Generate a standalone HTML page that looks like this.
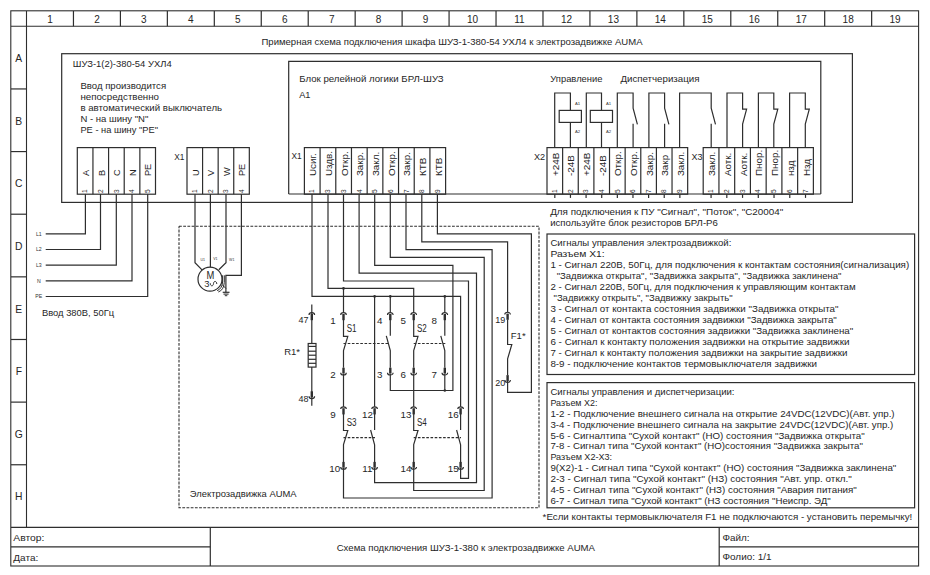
<!DOCTYPE html>
<html><head><meta charset="utf-8"><style>
html,body{margin:0;padding:0;background:#fff;overflow:hidden;width:930px;height:575px;}
svg{display:block;}
text{font-family:"Liberation Sans",sans-serif;fill:#262626;stroke:none;}
</style></head><body>
<svg width="930" height="575" viewBox="0 0 930 575">
<rect x="0" y="0" width="930" height="575" fill="#fff"/>
<g fill="none" stroke="#2e2e2e" stroke-width="1.2" stroke-linecap="butt" stroke-linejoin="miter">
<rect x="10.80" y="10.80" width="907.80" height="555.20" stroke-width="1.1"/>
<polyline points="11.00,26.30 918.60,26.30" stroke-width="1.1"/>
<polyline points="26.50,11.00 26.50,527.40" stroke-width="1.1"/>
<polyline points="73.45,11.00 73.45,26.30"/>
<polyline points="120.41,11.00 120.41,26.30"/>
<polyline points="167.36,11.00 167.36,26.30"/>
<polyline points="214.31,11.00 214.31,26.30"/>
<polyline points="261.26,11.00 261.26,26.30"/>
<polyline points="308.22,11.00 308.22,26.30"/>
<polyline points="355.17,11.00 355.17,26.30"/>
<polyline points="402.12,11.00 402.12,26.30"/>
<polyline points="449.07,11.00 449.07,26.30"/>
<polyline points="496.03,11.00 496.03,26.30"/>
<polyline points="542.98,11.00 542.98,26.30"/>
<polyline points="589.93,11.00 589.93,26.30"/>
<polyline points="636.88,11.00 636.88,26.30"/>
<polyline points="683.84,11.00 683.84,26.30"/>
<polyline points="730.79,11.00 730.79,26.30"/>
<polyline points="777.74,11.00 777.74,26.30"/>
<polyline points="824.69,11.00 824.69,26.30"/>
<polyline points="871.65,11.00 871.65,26.30"/>
<polyline points="11.00,88.94 26.50,88.94"/>
<polyline points="11.00,151.57 26.50,151.57"/>
<polyline points="11.00,214.21 26.50,214.21"/>
<polyline points="11.00,276.85 26.50,276.85"/>
<polyline points="11.00,339.49 26.50,339.49"/>
<polyline points="11.00,402.12 26.50,402.12"/>
<polyline points="11.00,464.76 26.50,464.76"/>
<polyline points="11.00,527.40 918.60,527.40" stroke-width="1.1"/>
<polyline points="11.00,546.80 210.30,546.80"/>
<polyline points="719.20,546.80 918.60,546.80"/>
<polyline points="210.30,527.40 210.30,566.00"/>
<polyline points="719.20,527.40 719.20,566.00"/>
<rect x="61.70" y="53.70" width="790.70" height="148.70"/>
<rect x="77.30" y="147.60" width="78.20" height="46.60"/>
<polyline points="92.94,147.60 92.94,194.20"/>
<polyline points="108.58,147.60 108.58,194.20"/>
<polyline points="124.22,147.60 124.22,194.20"/>
<polyline points="139.86,147.60 139.86,194.20"/>
<rect x="187.00" y="147.60" width="62.32" height="46.60"/>
<polyline points="202.58,147.60 202.58,194.20"/>
<polyline points="218.16,147.60 218.16,194.20"/>
<polyline points="233.74,147.60 233.74,194.20"/>
<polyline points="288.70,194.00 288.70,61.30 820.80,61.30 820.80,194.00"/>
<polyline points="288.70,194.00 820.80,194.00"/>
<rect x="304.40" y="147.60" width="141.21" height="46.60"/>
<polyline points="320.09,147.60 320.09,194.20"/>
<polyline points="335.78,147.60 335.78,194.20"/>
<polyline points="351.47,147.60 351.47,194.20"/>
<polyline points="367.16,147.60 367.16,194.20"/>
<polyline points="382.85,147.60 382.85,194.20"/>
<polyline points="398.54,147.60 398.54,194.20"/>
<polyline points="414.23,147.60 414.23,194.20"/>
<polyline points="429.92,147.60 429.92,194.20"/>
<rect x="547.00" y="147.60" width="140.67" height="46.60"/>
<polyline points="562.63,147.60 562.63,194.20"/>
<polyline points="578.26,147.60 578.26,194.20"/>
<polyline points="593.89,147.60 593.89,194.20"/>
<polyline points="609.52,147.60 609.52,194.20"/>
<polyline points="625.15,147.60 625.15,194.20"/>
<polyline points="640.78,147.60 640.78,194.20"/>
<polyline points="656.41,147.60 656.41,194.20"/>
<polyline points="672.04,147.60 672.04,194.20"/>
<polyline points="554.82,194.20 554.82,197.90"/>
<polyline points="570.45,194.20 570.45,197.90"/>
<polyline points="586.08,194.20 586.08,197.90"/>
<polyline points="601.71,194.20 601.71,197.90"/>
<polyline points="617.34,194.20 617.34,197.90"/>
<polyline points="632.97,194.20 632.97,197.90"/>
<polyline points="648.60,194.20 648.60,197.90"/>
<polyline points="664.23,194.20 664.23,197.90"/>
<polyline points="679.86,194.20 679.86,197.90"/>
<rect x="703.20" y="147.60" width="110.18" height="46.60"/>
<polyline points="718.94,147.60 718.94,194.20"/>
<polyline points="734.68,147.60 734.68,194.20"/>
<polyline points="750.42,147.60 750.42,194.20"/>
<polyline points="766.16,147.60 766.16,194.20"/>
<polyline points="781.90,147.60 781.90,194.20"/>
<polyline points="797.64,147.60 797.64,194.20"/>
<polyline points="711.07,194.20 711.07,197.90"/>
<polyline points="726.81,194.20 726.81,197.90"/>
<polyline points="742.55,194.20 742.55,197.90"/>
<polyline points="758.29,194.20 758.29,197.90"/>
<polyline points="774.03,194.20 774.03,197.90"/>
<polyline points="789.77,194.20 789.77,197.90"/>
<polyline points="805.51,194.20 805.51,197.90"/>
<polyline points="554.70,147.60 554.70,93.00 570.40,93.00 570.40,110.40"/>
<polyline points="570.40,122.40 570.40,147.60"/>
<rect x="559.20" y="110.40" width="22.20" height="12.00"/>
<polyline points="586.30,147.60 586.30,93.00 601.50,93.00 601.50,110.40"/>
<polyline points="601.50,122.40 601.50,147.60"/>
<rect x="590.30" y="110.40" width="22.20" height="12.00"/>
<polyline points="617.30,147.60 617.30,93.00 633.10,93.00 633.10,108.20 637.40,124.40"/>
<polyline points="633.10,123.70 633.10,147.60"/>
<polyline points="648.90,147.60 648.90,93.00 664.60,93.00 664.60,108.20 668.90,124.40"/>
<polyline points="664.60,123.70 664.60,147.60"/>
<polyline points="679.60,147.60 679.60,93.00 711.20,93.00 711.20,108.20 715.50,124.40"/>
<polyline points="711.20,123.70 711.20,147.60"/>
<polyline points="727.00,147.60 727.00,93.00 742.60,93.00 742.60,109.10 746.60,109.10 742.60,124.00 742.60,147.60"/>
<polyline points="758.40,147.60 758.40,93.00 773.80,93.00 773.80,109.10 777.80,109.10 773.80,124.00 773.80,147.60"/>
<polyline points="789.60,147.60 789.60,93.00 805.30,93.00 805.30,109.10 809.30,109.10 805.30,124.00 805.30,147.60"/>
<rect x="547.00" y="234.00" width="367.60" height="140.50"/>
<rect x="547.00" y="382.60" width="367.60" height="125.20"/>
<polyline points="85.40,194.20 85.40,233.80 45.70,233.80"/>
<polyline points="100.50,194.20 100.50,249.48 45.70,249.48"/>
<polyline points="116.30,194.20 116.30,265.16 45.70,265.16"/>
<polyline points="132.00,194.20 132.00,280.84 45.70,280.84"/>
<polyline points="147.70,194.20 147.70,296.52 45.70,296.52"/>
<polyline points="179.00,226.20 539.00,226.20 539.00,507.70 179.00,507.70 179.00,226.20" stroke-width="1.1" stroke-dasharray="2.8,1.4"/>
<polyline points="195.00,194.20 195.00,262.70 202.00,269.80"/>
<polyline points="210.40,194.20 210.40,267.20"/>
<polyline points="226.00,194.20 226.00,262.70 218.80,269.80"/>
<polyline points="241.40,194.20 241.40,275.40 225.90,275.40 225.90,292.30"/>
<polyline points="222.70,292.30 229.50,292.30" stroke-width="1.2"/>
<polyline points="223.50,294.10 228.60,294.10" stroke-width="1.1"/>
<polyline points="224.80,295.70 227.30,295.70" stroke-width="1.0"/>
<circle cx="210.0" cy="279.15" r="12.0"/>
<path d="M 222.6 275.3 L 222.6 282 Q 222.1 288.6 217.2 290.7" stroke-width="1.0"/>
<path d="M 224.3 275.3 L 224.3 282.5 Q 223.7 290.2 218.3 292.0" stroke-width="1.0"/>
<polyline points="222.60,285.00 226.00,288.60" stroke-width="1.0"/>
<path d="M 210.2 283.2 C 210.4 286.6, 213.3 286.6, 213.5 283.6 C 213.7 280.6, 216.6 280.6, 216.8 284.0" stroke-width="1.0"/>
<path d="M 340.70 314.90 A 2.8 2.3 0 0 1 346.30 314.90" stroke-width="1.15"/>
<polyline points="343.50,314.00 343.50,320.20" stroke-width="2.4"/>
<polyline points="343.50,319.80 343.50,336.30 347.80,336.30 343.50,350.50 343.50,367.70"/>
<polyline points="343.50,367.70 343.50,373.60" stroke-width="2.4"/>
<path d="M 340.70 372.70 A 2.8 2.3 0 0 0 346.30 372.70" stroke-width="1.15"/>
<path d="M 387.50 314.90 A 2.8 2.3 0 0 1 393.10 314.90" stroke-width="1.15"/>
<polyline points="390.30,314.00 390.30,320.20" stroke-width="2.4"/>
<polyline points="390.30,319.80 390.30,335.80"/>
<polyline points="386.30,335.80 390.30,350.60 390.30,367.70"/>
<polyline points="390.30,367.70 390.30,373.60" stroke-width="2.4"/>
<path d="M 387.50 372.70 A 2.8 2.3 0 0 0 393.10 372.70" stroke-width="1.15"/>
<polyline points="343.50,343.50 389.00,343.50" stroke-dasharray="2.6,1.6"/>
<path d="M 410.90 314.90 A 2.8 2.3 0 0 1 416.50 314.90" stroke-width="1.15"/>
<polyline points="413.70,314.00 413.70,320.20" stroke-width="2.4"/>
<polyline points="413.70,319.80 413.70,336.30 418.00,336.30 413.70,350.50 413.70,367.70"/>
<polyline points="413.70,367.70 413.70,373.60" stroke-width="2.4"/>
<path d="M 410.90 372.70 A 2.8 2.3 0 0 0 416.50 372.70" stroke-width="1.15"/>
<path d="M 442.00 314.90 A 2.8 2.3 0 0 1 447.60 314.90" stroke-width="1.15"/>
<polyline points="444.80,314.00 444.80,320.20" stroke-width="2.4"/>
<polyline points="444.80,319.80 444.80,335.80"/>
<polyline points="440.80,335.80 444.80,350.60 444.80,367.70"/>
<polyline points="444.80,367.70 444.80,373.60" stroke-width="2.4"/>
<path d="M 442.00 372.70 A 2.8 2.3 0 0 0 447.60 372.70" stroke-width="1.15"/>
<polyline points="413.70,343.50 445.30,343.50" stroke-dasharray="2.6,1.6"/>
<path d="M 340.70 409.10 A 2.8 2.3 0 0 1 346.30 409.10" stroke-width="1.15"/>
<polyline points="343.50,408.20 343.50,414.40" stroke-width="2.4"/>
<polyline points="343.50,414.00 343.50,430.50 347.80,430.50 343.50,444.70 343.50,461.90"/>
<polyline points="343.50,461.90 343.50,467.80" stroke-width="2.4"/>
<path d="M 340.70 466.90 A 2.8 2.3 0 0 0 346.30 466.90" stroke-width="1.15"/>
<path d="M 371.80 409.10 A 2.8 2.3 0 0 1 377.40 409.10" stroke-width="1.15"/>
<polyline points="374.60,408.20 374.60,414.40" stroke-width="2.4"/>
<polyline points="374.60,414.00 374.60,430.00"/>
<polyline points="370.60,430.00 374.60,444.80 374.60,461.90"/>
<polyline points="374.60,461.90 374.60,467.80" stroke-width="2.4"/>
<path d="M 371.80 466.90 A 2.8 2.3 0 0 0 377.40 466.90" stroke-width="1.15"/>
<polyline points="343.50,437.70 375.00,437.70" stroke-dasharray="2.6,1.6"/>
<path d="M 410.90 409.10 A 2.8 2.3 0 0 1 416.50 409.10" stroke-width="1.15"/>
<polyline points="413.70,408.20 413.70,414.40" stroke-width="2.4"/>
<polyline points="413.70,414.00 413.70,430.50 418.00,430.50 413.70,444.70 413.70,461.90"/>
<polyline points="413.70,461.90 413.70,467.80" stroke-width="2.4"/>
<path d="M 410.90 466.90 A 2.8 2.3 0 0 0 416.50 466.90" stroke-width="1.15"/>
<path d="M 457.80 409.10 A 2.8 2.3 0 0 1 463.40 409.10" stroke-width="1.15"/>
<polyline points="460.60,408.20 460.60,414.40" stroke-width="2.4"/>
<polyline points="460.60,414.00 460.60,430.00"/>
<polyline points="456.60,430.00 460.60,444.80 460.60,461.90"/>
<polyline points="460.60,461.90 460.60,467.80" stroke-width="2.4"/>
<path d="M 457.80 466.90 A 2.8 2.3 0 0 0 463.40 466.90" stroke-width="1.15"/>
<polyline points="413.70,437.70 461.00,437.70" stroke-dasharray="2.6,1.6"/>
<path d="M 504.80 314.50 A 2.8 2.3 0 0 1 510.40 314.50" stroke-width="1.15"/>
<polyline points="507.60,313.60 507.60,319.80" stroke-width="2.4"/>
<polyline points="507.60,319.40 507.60,344.50 511.80,344.50 507.60,358.90 507.60,375.10"/>
<polyline points="507.60,375.10 507.60,381.00" stroke-width="2.4"/>
<path d="M 504.80 380.10 A 2.8 2.3 0 0 0 510.40 380.10" stroke-width="1.15"/>
<path d="M 309.00 314.90 A 2.8 2.3 0 0 1 314.60 314.90" stroke-width="1.15"/>
<polyline points="311.80,314.00 311.80,320.20" stroke-width="2.4"/>
<polyline points="311.80,304.40 311.80,343.50"/>
<polyline points="311.80,367.10 311.80,405.70"/>
<rect x="308.20" y="343.50" width="7.80" height="23.60"/>
<polyline points="308.20,346.40 316.00,346.40"/>
<polyline points="308.20,351.20 316.00,351.20"/>
<polyline points="308.20,355.20 316.00,355.20"/>
<polyline points="308.20,359.30 316.00,359.30"/>
<polyline points="308.20,363.30 316.00,363.30"/>
<polyline points="311.80,391.30 311.80,397.20" stroke-width="2.4"/>
<path d="M 309.00 396.30 A 2.8 2.3 0 0 0 314.60 396.30" stroke-width="1.15"/>
<polyline points="312.00,194.20 312.00,296.40 460.60,296.40 460.60,406.80"/>
<polyline points="328.00,194.20 328.00,288.40 413.70,288.40 413.70,312.60"/>
<polyline points="343.50,194.20 343.50,281.00 468.50,281.00 468.50,478.30 460.60,478.30 460.60,468.00"/>
<polyline points="359.10,194.20 359.10,273.10 476.50,273.10 476.50,482.70 374.60,482.70 374.60,468.00"/>
<polyline points="374.70,194.20 374.70,265.30 452.90,265.30 452.90,390.50 390.30,390.50 390.30,373.70"/>
<polyline points="390.30,194.20 390.30,257.40 484.20,257.40 484.20,490.50 413.70,490.50 413.70,468.00"/>
<polyline points="406.00,194.20 406.00,249.60 492.10,249.60 492.10,498.00 343.50,498.00 343.50,468.00"/>
<polyline points="421.80,194.20 421.80,241.80 507.60,241.80 507.60,312.20"/>
<polyline points="437.40,194.20 437.40,233.90 531.40,233.90 531.40,392.40 507.60,392.40 507.60,381.00"/>
<polyline points="343.50,288.40 343.50,312.60"/>
<polyline points="374.60,296.40 374.60,406.80"/>
<polyline points="390.30,296.40 390.30,312.60"/>
<polyline points="444.80,296.40 444.80,312.60"/>
<polyline points="444.80,373.70 444.80,390.50"/>
<polyline points="343.50,373.70 343.50,406.80"/>
<polyline points="413.70,373.70 413.70,406.80"/>
<circle cx="343.5" cy="288.4" r="1.3" fill="#2e2e2e" stroke="none"/>
<circle cx="374.6" cy="296.4" r="1.3" fill="#2e2e2e" stroke="none"/>
<circle cx="390.3" cy="296.4" r="1.3" fill="#2e2e2e" stroke="none"/>
<circle cx="444.8" cy="296.4" r="1.3" fill="#2e2e2e" stroke="none"/>
<circle cx="444.8" cy="390.5" r="1.3" fill="#2e2e2e" stroke="none"/>
</g>
<g font-size="9.2">
<text x="49.98" y="23.00" font-size="10" text-anchor="middle">1</text>
<text x="96.93" y="23.00" font-size="10" text-anchor="middle">2</text>
<text x="143.88" y="23.00" font-size="10" text-anchor="middle">3</text>
<text x="190.83" y="23.00" font-size="10" text-anchor="middle">4</text>
<text x="237.79" y="23.00" font-size="10" text-anchor="middle">5</text>
<text x="284.74" y="23.00" font-size="10" text-anchor="middle">6</text>
<text x="331.69" y="23.00" font-size="10" text-anchor="middle">7</text>
<text x="378.64" y="23.00" font-size="10" text-anchor="middle">8</text>
<text x="425.60" y="23.00" font-size="10" text-anchor="middle">9</text>
<text x="472.55" y="23.00" font-size="10" text-anchor="middle">10</text>
<text x="519.50" y="23.00" font-size="10" text-anchor="middle">11</text>
<text x="566.46" y="23.00" font-size="10" text-anchor="middle">12</text>
<text x="613.41" y="23.00" font-size="10" text-anchor="middle">13</text>
<text x="660.36" y="23.00" font-size="10" text-anchor="middle">14</text>
<text x="707.31" y="23.00" font-size="10" text-anchor="middle">15</text>
<text x="754.27" y="23.00" font-size="10" text-anchor="middle">16</text>
<text x="801.22" y="23.00" font-size="10" text-anchor="middle">17</text>
<text x="848.17" y="23.00" font-size="10" text-anchor="middle">18</text>
<text x="895.12" y="23.00" font-size="10" text-anchor="middle">19</text>
<text x="18.80" y="62.02" font-size="10.3" text-anchor="middle">A</text>
<text x="18.80" y="124.66" font-size="10.3" text-anchor="middle">B</text>
<text x="18.80" y="187.29" font-size="10.3" text-anchor="middle">C</text>
<text x="18.80" y="249.93" font-size="10.3" text-anchor="middle">D</text>
<text x="18.80" y="312.57" font-size="10.3" text-anchor="middle">E</text>
<text x="18.80" y="375.21" font-size="10.3" text-anchor="middle">F</text>
<text x="18.80" y="437.84" font-size="10.3" text-anchor="middle">G</text>
<text x="18.80" y="500.48" font-size="10.3" text-anchor="middle">H</text>
<text x="13.30" y="540.70" textLength="31.0" lengthAdjust="spacingAndGlyphs">Автор:</text>
<text x="13.30" y="560.70" textLength="25.0" lengthAdjust="spacingAndGlyphs">Дата:</text>
<text x="336.70" y="550.70" textLength="258.3" lengthAdjust="spacingAndGlyphs">Схема подключения ШУЗ-1-380 к электрозадвижке AUMA</text>
<text x="722.50" y="540.50" textLength="27.0" lengthAdjust="spacingAndGlyphs">Файл:</text>
<text x="722.50" y="559.80" textLength="49.0" lengthAdjust="spacingAndGlyphs">Фолио: 1/1</text>
<text x="261.50" y="45.10" textLength="381.0" lengthAdjust="spacingAndGlyphs">Примерная схема подключения шкафа ШУЗ-1-380-54 УХЛ4 к электрозадвижке AUMA</text>
<text x="72.80" y="66.50" textLength="98.9" lengthAdjust="spacingAndGlyphs">ШУЗ-1(2)-380-54 УХЛ4</text>
<text x="80.40" y="89.20" textLength="85.7" lengthAdjust="spacingAndGlyphs">Ввод производится</text>
<text x="80.40" y="100.25" textLength="78.6" lengthAdjust="spacingAndGlyphs">непосредственно</text>
<text x="80.40" y="111.30" textLength="141.7" lengthAdjust="spacingAndGlyphs">в автоматический выключатель</text>
<text x="80.40" y="122.35" textLength="68.0" lengthAdjust="spacingAndGlyphs">N - на шину "N"</text>
<text x="80.40" y="133.40" textLength="77.6" lengthAdjust="spacingAndGlyphs">PE - на шину "PE"</text>
<text x="88.92" y="176.10" transform="rotate(-90 88.92 176.10)">A</text>
<text x="87.32" y="192.90" font-size="6.6" transform="rotate(-90 87.32 192.90)">1</text>
<text x="104.56" y="176.10" transform="rotate(-90 104.56 176.10)">B</text>
<text x="102.96" y="192.90" font-size="6.6" transform="rotate(-90 102.96 192.90)">2</text>
<text x="120.20" y="176.10" transform="rotate(-90 120.20 176.10)">C</text>
<text x="118.60" y="192.90" font-size="6.6" transform="rotate(-90 118.60 192.90)">3</text>
<text x="135.84" y="176.10" transform="rotate(-90 135.84 176.10)">N</text>
<text x="134.24" y="192.90" font-size="6.6" transform="rotate(-90 134.24 192.90)">4</text>
<text x="151.48" y="176.10" transform="rotate(-90 151.48 176.10)">PE</text>
<text x="149.88" y="192.90" font-size="6.6" transform="rotate(-90 149.88 192.90)">5</text>
<text x="198.59" y="176.10" transform="rotate(-90 198.59 176.10)">U</text>
<text x="196.99" y="192.90" font-size="6.6" transform="rotate(-90 196.99 192.90)">1</text>
<text x="214.17" y="176.10" transform="rotate(-90 214.17 176.10)">V</text>
<text x="212.57" y="192.90" font-size="6.6" transform="rotate(-90 212.57 192.90)">2</text>
<text x="229.75" y="176.10" transform="rotate(-90 229.75 176.10)">W</text>
<text x="228.15" y="192.90" font-size="6.6" transform="rotate(-90 228.15 192.90)">3</text>
<text x="245.33" y="176.10" transform="rotate(-90 245.33 176.10)">PE</text>
<text x="243.73" y="192.90" font-size="6.6" transform="rotate(-90 243.73 192.90)">4</text>
<text x="174.20" y="159.80" textLength="10.2" lengthAdjust="spacingAndGlyphs">X1</text>
<text x="299.20" y="81.70" textLength="144.5" lengthAdjust="spacingAndGlyphs">Блок релейной логики БРЛ-ШУЗ</text>
<text x="299.20" y="97.60" textLength="11.3" lengthAdjust="spacingAndGlyphs">A1</text>
<text x="316.25" y="176.10" font-size="9.9" transform="rotate(-90 316.25 176.10)">Uсиг.</text>
<text x="314.44" y="192.90" font-size="6.6" transform="rotate(-90 314.44 192.90)">1</text>
<text x="331.94" y="176.10" font-size="9.9" transform="rotate(-90 331.94 176.10)">Uздв.</text>
<text x="330.13" y="192.90" font-size="6.6" transform="rotate(-90 330.13 192.90)">3</text>
<text x="347.62" y="176.10" font-size="9.9" transform="rotate(-90 347.62 176.10)">Откр.</text>
<text x="345.82" y="192.90" font-size="6.6" transform="rotate(-90 345.82 192.90)">3</text>
<text x="363.31" y="176.10" font-size="9.9" transform="rotate(-90 363.31 176.10)">Закр.</text>
<text x="361.51" y="192.90" font-size="6.6" transform="rotate(-90 361.51 192.90)">4</text>
<text x="379.00" y="176.10" font-size="9.9" transform="rotate(-90 379.00 176.10)">Закл.</text>
<text x="377.20" y="192.90" font-size="6.6" transform="rotate(-90 377.20 192.90)">5</text>
<text x="394.69" y="176.10" font-size="9.9" transform="rotate(-90 394.69 176.10)">Откр.</text>
<text x="392.89" y="192.90" font-size="6.6" transform="rotate(-90 392.89 192.90)">6</text>
<text x="410.38" y="176.10" font-size="9.9" transform="rotate(-90 410.38 176.10)">Закр.</text>
<text x="408.58" y="192.90" font-size="6.6" transform="rotate(-90 408.58 192.90)">7</text>
<text x="426.07" y="176.10" font-size="9.9" transform="rotate(-90 426.07 176.10)">КТВ</text>
<text x="424.27" y="192.90" font-size="6.6" transform="rotate(-90 424.27 192.90)">8</text>
<text x="441.76" y="176.10" font-size="9.9" transform="rotate(-90 441.76 176.10)">КТВ</text>
<text x="439.96" y="192.90" font-size="6.6" transform="rotate(-90 439.96 192.90)">9</text>
<text x="291.40" y="159.30" textLength="10.2" lengthAdjust="spacingAndGlyphs">X1</text>
<text x="558.82" y="176.10" font-size="9.9" transform="rotate(-90 558.82 176.10)">+24В</text>
<text x="557.02" y="192.90" font-size="6.6" transform="rotate(-90 557.02 192.90)">1</text>
<text x="574.45" y="176.10" font-size="9.9" transform="rotate(-90 574.45 176.10)">-24В</text>
<text x="572.65" y="192.90" font-size="6.6" transform="rotate(-90 572.65 192.90)">2</text>
<text x="590.08" y="176.10" font-size="9.9" transform="rotate(-90 590.08 176.10)">+24В</text>
<text x="588.28" y="192.90" font-size="6.6" transform="rotate(-90 588.28 192.90)">3</text>
<text x="605.71" y="176.10" font-size="9.9" transform="rotate(-90 605.71 176.10)">-24В</text>
<text x="603.91" y="192.90" font-size="6.6" transform="rotate(-90 603.91 192.90)">4</text>
<text x="621.34" y="176.10" font-size="9.9" transform="rotate(-90 621.34 176.10)">Откр.</text>
<text x="619.54" y="192.90" font-size="6.6" transform="rotate(-90 619.54 192.90)">5</text>
<text x="636.97" y="176.10" font-size="9.9" transform="rotate(-90 636.97 176.10)">Откр.</text>
<text x="635.17" y="192.90" font-size="6.6" transform="rotate(-90 635.17 192.90)">6</text>
<text x="652.60" y="176.10" font-size="9.9" transform="rotate(-90 652.60 176.10)">Закр.</text>
<text x="650.80" y="192.90" font-size="6.6" transform="rotate(-90 650.80 192.90)">7</text>
<text x="668.23" y="176.10" font-size="9.9" transform="rotate(-90 668.23 176.10)">Закр</text>
<text x="666.43" y="192.90" font-size="6.6" transform="rotate(-90 666.43 192.90)">8</text>
<text x="683.86" y="176.10" font-size="9.9" transform="rotate(-90 683.86 176.10)">Закл.</text>
<text x="682.06" y="192.90" font-size="6.6" transform="rotate(-90 682.06 192.90)">9</text>
<text x="533.90" y="159.70" textLength="11.2" lengthAdjust="spacingAndGlyphs">X2</text>
<text x="715.07" y="176.10" font-size="9.9" transform="rotate(-90 715.07 176.10)">Закл.</text>
<text x="713.27" y="192.90" font-size="6.6" transform="rotate(-90 713.27 192.90)">1</text>
<text x="730.81" y="176.10" font-size="9.9" transform="rotate(-90 730.81 176.10)">Аотк.</text>
<text x="729.01" y="192.90" font-size="6.6" transform="rotate(-90 729.01 192.90)">2</text>
<text x="746.55" y="176.10" font-size="9.9" transform="rotate(-90 746.55 176.10)">Аотк.</text>
<text x="744.75" y="192.90" font-size="6.6" transform="rotate(-90 744.75 192.90)">3</text>
<text x="762.29" y="176.10" font-size="9.9" transform="rotate(-90 762.29 176.10)">Пнор.</text>
<text x="760.49" y="192.90" font-size="6.6" transform="rotate(-90 760.49 192.90)">4</text>
<text x="778.03" y="176.10" font-size="9.9" transform="rotate(-90 778.03 176.10)">Пнор.</text>
<text x="776.23" y="192.90" font-size="6.6" transform="rotate(-90 776.23 192.90)">5</text>
<text x="793.77" y="176.10" font-size="9.9" transform="rotate(-90 793.77 176.10)">нзд</text>
<text x="791.97" y="192.90" font-size="6.6" transform="rotate(-90 791.97 192.90)">6</text>
<text x="809.51" y="176.10" font-size="9.9" transform="rotate(-90 809.51 176.10)">Нзд</text>
<text x="807.71" y="192.90" font-size="6.6" transform="rotate(-90 807.71 192.90)">7</text>
<text x="691.50" y="159.70" textLength="11.0" lengthAdjust="spacingAndGlyphs">X3</text>
<text x="550.30" y="82.00" textLength="52.2" lengthAdjust="spacingAndGlyphs">Управление</text>
<text x="620.40" y="82.00" textLength="79.0" lengthAdjust="spacingAndGlyphs">Диспетчеризация</text>
<text x="574.90" y="105.20" font-size="4.2" style="fill:#333">A1</text>
<text x="574.90" y="133.00" font-size="4.2" style="fill:#333">A2</text>
<text x="606.00" y="105.20" font-size="4.2" style="fill:#333">A1</text>
<text x="606.00" y="133.00" font-size="4.2" style="fill:#333">A2</text>
<text x="550.20" y="214.80" textLength="233.0" lengthAdjust="spacingAndGlyphs">Для подключения к ПУ "Сигнал", "Поток", "С20004"</text>
<text x="550.20" y="225.90" textLength="167.7" lengthAdjust="spacingAndGlyphs">используйте блок резисторов БРЛ-Р6</text>
<text x="550.40" y="246.40" textLength="181.0" lengthAdjust="spacingAndGlyphs">Сигналы управления электрозадвижкой:</text>
<text x="550.40" y="257.32" textLength="54.3" lengthAdjust="spacingAndGlyphs">Разъем X1:</text>
<text x="550.40" y="268.24" textLength="358.8" lengthAdjust="spacingAndGlyphs">1 - Сигнал 220В, 50Гц, для подключения к контактам состояния(сигнализация)</text>
<text x="556.70" y="279.16" textLength="284.8" lengthAdjust="spacingAndGlyphs">"Задвижка открыта", "Задвижка закрыта", "Задвижка заклинена"</text>
<text x="550.40" y="290.08" textLength="305.2" lengthAdjust="spacingAndGlyphs">2 - Сигнал 220В, 50Гц, для подключения к управляющим контактам</text>
<text x="553.50" y="301.00" textLength="179.1" lengthAdjust="spacingAndGlyphs">"Задвижку открыть", "Задвижку закрыть"</text>
<text x="550.40" y="311.92" textLength="288.1" lengthAdjust="spacingAndGlyphs">3 - Сигнал от контакта состояния задвижки "Задвижка открыта"</text>
<text x="550.40" y="322.84" textLength="286.4" lengthAdjust="spacingAndGlyphs">4 - Сигнал от контакта состояния задвижки "Задвижка закрыта"</text>
<text x="550.40" y="333.76" textLength="302.8" lengthAdjust="spacingAndGlyphs">5 - Сигнал от контактов состояния задвижки "Задвижка заклинена"</text>
<text x="550.40" y="344.68" textLength="299.1" lengthAdjust="spacingAndGlyphs">6 - Сигнал к контакту положения задвижки на открытие задвижки</text>
<text x="550.40" y="355.60" textLength="297.1" lengthAdjust="spacingAndGlyphs">7 - Сигнал к контакту положения задвижки на закрытие задвижки</text>
<text x="550.40" y="366.52" textLength="266.7" lengthAdjust="spacingAndGlyphs">8-9 - подключение контактов термовыключателя задвижки</text>
<text x="550.40" y="394.70" textLength="184.1" lengthAdjust="spacingAndGlyphs">Сигналы управления и диспетчеризации:</text>
<text x="550.40" y="405.65" textLength="47.0" lengthAdjust="spacingAndGlyphs">Разъем X2:</text>
<text x="550.40" y="416.60" textLength="344.2" lengthAdjust="spacingAndGlyphs">1-2 - Подключение внешнего сигнала на открытие 24VDC(12VDC)(Авт. упр.)</text>
<text x="550.40" y="427.55" textLength="342.9" lengthAdjust="spacingAndGlyphs">3-4 - Подключение внешнего сигнала на закрытие 24VDC(12VDC)(Авт. упр.)</text>
<text x="550.40" y="438.50" textLength="314.2" lengthAdjust="spacingAndGlyphs">5-6 - Сигналтипа "Сухой контакт" (НО) состояния "Задвижка открыта"</text>
<text x="550.40" y="449.45" textLength="312.5" lengthAdjust="spacingAndGlyphs">7-8 - Сигнал типа "Сухой контакт" (НО)состояния "Задвижка закрыта"</text>
<text x="550.40" y="460.40" textLength="61.6" lengthAdjust="spacingAndGlyphs">Разъем X2-X3:</text>
<text x="550.40" y="471.35" textLength="345.9" lengthAdjust="spacingAndGlyphs">9(X2)-1 - Сигнал типа "Сухой контакт" (НО) состояния "Задвижка заклинена"</text>
<text x="550.40" y="482.30" textLength="301.5" lengthAdjust="spacingAndGlyphs">2-3 - Сигнал типа "Сухой контакт" (НЗ) состояния "Авт. упр. откл."</text>
<text x="550.40" y="493.25" textLength="306.4" lengthAdjust="spacingAndGlyphs">4-5 - Сигнал типа "Сухой контакт" (НЗ) состояния "Авария питания"</text>
<text x="550.40" y="504.20" textLength="280.3" lengthAdjust="spacingAndGlyphs">6-7 - Сигнал типа "Сухой контакт" (НЗ состояния "Неиспр. ЭД"</text>
<text x="542.60" y="520.40" textLength="369.7" lengthAdjust="spacingAndGlyphs">*Если контакты термовыключателя F1 не подключаются - установить перемычку!</text>
<text x="38.80" y="235.70" font-size="5.2" style="fill:#333" text-anchor="middle">L1</text>
<text x="38.80" y="251.38" font-size="5.2" style="fill:#333" text-anchor="middle">L2</text>
<text x="38.80" y="267.06" font-size="5.2" style="fill:#333" text-anchor="middle">L3</text>
<text x="38.80" y="282.74" font-size="5.2" style="fill:#333" text-anchor="middle">N</text>
<text x="38.80" y="298.42" font-size="5.2" style="fill:#333" text-anchor="middle">PE</text>
<text x="41.90" y="315.60" textLength="72.3" lengthAdjust="spacingAndGlyphs">Ввод 380В, 50Гц</text>
<text x="189.80" y="496.70" textLength="106.7" lengthAdjust="spacingAndGlyphs">Электрозадвижка AUMA</text>
<text x="210.30" y="278.80" font-size="10.6" textLength="7.8" lengthAdjust="spacingAndGlyphs" text-anchor="middle">M</text>
<text x="206.80" y="287.20" font-size="9.4" text-anchor="middle">3</text>
<text x="200.50" y="260.80" font-size="3.6" style="fill:#333">U1</text>
<text x="213.20" y="259.60" font-size="3.6" style="fill:#333">V1</text>
<text x="229.00" y="260.80" font-size="3.6" style="fill:#333">W1</text>
<text x="333.00" y="323.90" font-size="9.8" text-anchor="middle">1</text>
<text x="333.00" y="378.00" font-size="9.8" text-anchor="middle">2</text>
<text x="346.70" y="331.90" font-size="10" textLength="9.8" lengthAdjust="spacingAndGlyphs">S1</text>
<text x="379.80" y="323.90" font-size="9.8" text-anchor="middle">4</text>
<text x="379.80" y="378.00" font-size="9.8" text-anchor="middle">3</text>
<text x="403.20" y="323.90" font-size="9.8" text-anchor="middle">5</text>
<text x="403.20" y="378.00" font-size="9.8" text-anchor="middle">6</text>
<text x="416.90" y="331.90" font-size="10" textLength="9.8" lengthAdjust="spacingAndGlyphs">S2</text>
<text x="434.30" y="323.90" font-size="9.8" text-anchor="middle">8</text>
<text x="434.30" y="378.00" font-size="9.8" text-anchor="middle">7</text>
<text x="333.00" y="418.10" font-size="9.8" text-anchor="middle">9</text>
<text x="334.80" y="472.20" font-size="9.8" text-anchor="middle">10</text>
<text x="346.70" y="426.10" font-size="10" textLength="9.8" lengthAdjust="spacingAndGlyphs">S3</text>
<text x="367.40" y="418.10" font-size="9.8" text-anchor="middle">12</text>
<text x="367.40" y="472.20" font-size="9.8" text-anchor="middle">11</text>
<text x="406.00" y="418.10" font-size="9.8" text-anchor="middle">13</text>
<text x="406.00" y="472.20" font-size="9.8" text-anchor="middle">14</text>
<text x="416.90" y="426.10" font-size="10" textLength="9.8" lengthAdjust="spacingAndGlyphs">S4</text>
<text x="453.30" y="418.10" font-size="9.8" text-anchor="middle">16</text>
<text x="453.30" y="472.20" font-size="9.8" text-anchor="middle">15</text>
<text x="500.30" y="322.90" font-size="9" text-anchor="middle">19</text>
<text x="500.30" y="385.70" font-size="9" text-anchor="middle">20</text>
<text x="510.80" y="339.40" font-size="9.5">F1*</text>
<text x="303.40" y="323.20" font-size="9" text-anchor="middle">47</text>
<text x="303.40" y="401.60" font-size="9" text-anchor="middle">48</text>
<text x="284.20" y="354.50" font-size="9.5">R1*</text>
</g>
</svg>
</body></html>
